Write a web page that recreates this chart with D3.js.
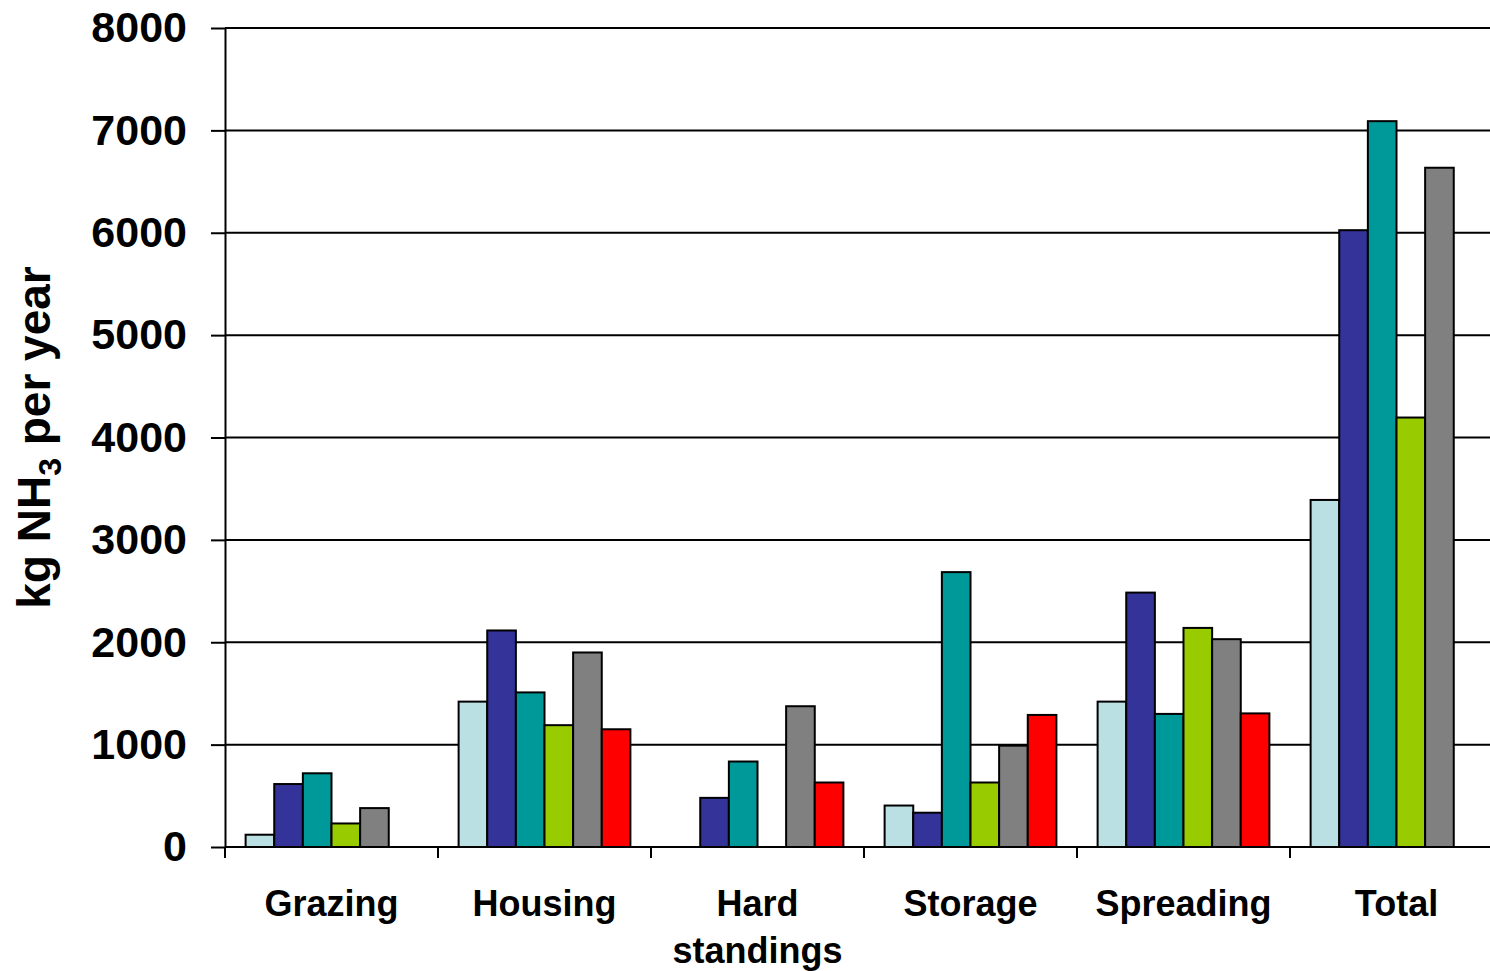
<!DOCTYPE html>
<html>
<head>
<meta charset="utf-8">
<script src="https://cdn.jsdelivr.net/npm/d3@7"></script>
<style>
  body { margin: 0; background: #fff; }
  svg { display: block; font-family: "Liberation Sans", Arial, sans-serif; }
</style>
</head>
<body>
<svg id="chart"></svg>
<script>
// categories along the x axis
const categories = ["Grazing", "Housing", "Hard standings", "Storage", "Spreading", "Total"];
// six series, one value per category (kg NH3 per year)
const series1 = [120, 1420, 0, 405, 1420, 3390];
const series2 = [615, 2115, 480, 335, 2485, 6025];
const series3 = [720, 1510, 835, 2685, 1300, 7090];
const series4 = [230, 1190, 0, 630, 2140, 4195];
const series5 = [380, 1900, 1375, 990, 2030, 6635];
const series6 = [0, 1150, 630, 1290, 1305, 0];
const seriesNames = ["s1", "s2", "s3", "s4", "s5", "s6"];
const seriesColors = ["#BBE0E3", "#333399", "#009999", "#99CC00", "#808080", "#FF0000"];
const yTicks = [0, 1000, 2000, 3000, 4000, 5000, 6000, 7000, 8000];

const allSeries = [series1, series2, series3, series4, series5, series6];

const config = {
    width: 1490,
    height: 971,
    margin: {top: 28, right: -13, bottom: 124, left: 225}
};

const svg = d3.select('#chart')
    .attr('width', config.width)
    .attr('height', config.height);

const inner_width = config.width - config.margin.left - config.margin.right;
const inner_height = config.height - config.margin.top - config.margin.bottom;

const chart = svg.append('g')
    .attr('transform', `translate(${config.margin.left}, ${config.margin.top})`);

const x0 = d3.scaleBand()
    .domain(categories)
    .range([0, inner_width])
    .paddingInner(0)
    .paddingOuter(0);

const x1 = d3.scaleBand()
    .domain(seriesNames)
    .range([0, x0.bandwidth()])
    .paddingInner(0)
    .paddingOuter(0.72);

const y = d3.scaleLinear()
    .domain([0, 8000])
    .range([inner_height, 0]);

// gridlines
chart.append('g')
    .selectAll('line')
    .data(yTicks.slice(1))
    .join('line')
    .attr('x1', 0)
    .attr('x2', inner_width)
    .attr('y1', d => y(d))
    .attr('y2', d => y(d))
    .attr('stroke', '#000')
    .attr('stroke-width', 2);

// bars
const groups = chart.append('g')
    .selectAll('g')
    .data(categories)
    .join('g')
    .attr('transform', d => `translate(${x0(d)},0)`);

groups.selectAll('rect')
    .data((c, i) => allSeries.map((s, k) => ({name: seriesNames[k], color: seriesColors[k], value: s[i]})).filter(d => d.value > 0))
    .join('rect')
    .attr('x', d => x1(d.name))
    .attr('width', x1.bandwidth())
    .attr('y', d => y(d.value))
    .attr('height', d => y(0) - y(d.value))
    .attr('fill', d => d.color)
    .attr('stroke', '#000')
    .attr('stroke-width', 2);

// y axis
const yAxis = chart.append('g')
    .call(d3.axisLeft(y).tickValues(yTicks).tickFormat(d3.format('d'))
        .tickSize(14).tickPadding(24).tickSizeOuter(0));
yAxis.select('.domain').attr('stroke-width', 2);
yAxis.selectAll('.tick line').attr('stroke-width', 2);
yAxis.selectAll('.tick text')
    .attr('font-size', 43)
    .attr('font-weight', 'bold')
    .attr('fill', '#000')
    .attr('font-family', '"Liberation Sans", Arial, sans-serif');

// x axis
const xAxis = chart.append('g')
    .attr('transform', `translate(0, ${inner_height})`);
xAxis.append('line')
    .attr('x1', 0).attr('x2', inner_width)
    .attr('stroke', '#000').attr('stroke-width', 2);
xAxis.selectAll('.xtick')
    .data(categories)
    .join('line')
    .attr('class', 'xtick')
    .attr('x1', d => x0(d)).attr('x2', d => x0(d))
    .attr('y1', 0).attr('y2', 11)
    .attr('stroke', '#000').attr('stroke-width', 2);

const xLabels = xAxis.selectAll('.xlabel')
    .data(categories)
    .join('text')
    .attr('class', 'xlabel')
    .attr('text-anchor', 'middle')
    .attr('font-size', 36)
    .attr('font-weight', 'bold')
    .attr('fill', '#000')
    .attr('transform', d => `translate(${x0(d) + x0.bandwidth() / 2}, 69)`);

xLabels.each(function(d) {
    const words = d.split(' ');
    d3.select(this).selectAll('tspan')
        .data(words)
        .join('tspan')
        .attr('x', 0)
        .attr('dy', (w, i) => i === 0 ? 0 : 47)
        .text(w => w);
});

// y axis title
const yTitle = svg.append('text')
    .attr('transform', `translate(50, ${config.margin.top + inner_height / 2}) rotate(-90)`)
    .attr('text-anchor', 'middle')
    .attr('font-size', 46)
    .attr('font-weight', 'bold')
    .attr('fill', '#000');
yTitle.append('tspan').text('kg NH');
yTitle.append('tspan').attr('font-size', 32).attr('dy', 11).text('3');
yTitle.append('tspan').attr('dy', -11).text(' per year');
</script>
</body>
</html>
